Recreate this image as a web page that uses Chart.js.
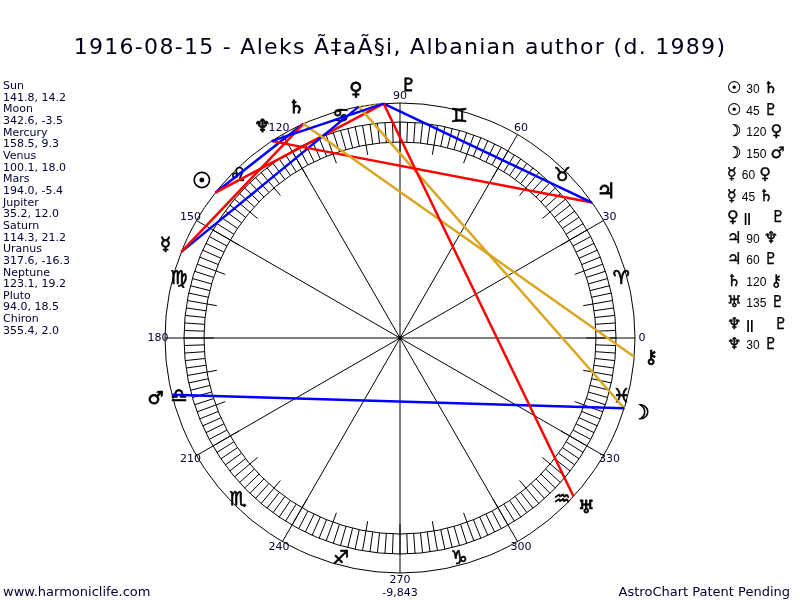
<!DOCTYPE html>
<html>
<head>
<meta charset="utf-8">
<title>Astro chart</title>
<script src="https://cdn.jsdelivr.net/npm/chart.js@4.4.1/dist/chart.umd.min.js"></script>
<style>
  body { margin: 0; background: #fff; }
  #wrap { position: relative; width: 800px; height: 600px; overflow: hidden;
          font-family: "DejaVu Sans", Verdana, sans-serif; color: #000033; }
  #wheel { position: absolute; left: 0; top: 0; }
  #title { position: absolute; left: 0; top: 34px; width: 800px; text-align: center;
           font-size: 22px; letter-spacing: 1.3px; line-height: 26px; white-space: nowrap; color: #00001a; }
  #positions { position: absolute; left: 3px; top: 80px; font-size: 11px; line-height: 11.65px; }
  #aspects { position: absolute; left: 727px; top: 78px; line-height: 19.5px; white-space: nowrap; color: #000; }
  #aspects .g { font-size: 16px; -webkit-text-stroke: 0.4px #000; }
  #aspects .n { font-family: "Liberation Sans", Arial, sans-serif; font-size: 12px; margin: 0 4px 0 5px; }
  #aspects .par { font-family: "Liberation Sans", Arial, sans-serif; font-weight: bold; font-size: 13px;
                  margin: 0 20px 0 5px; }
  .foot { position: absolute; top: 584px; font-size: 13px; line-height: 15px; white-space: nowrap; }
</style>
</head>
<body>
<div id="wrap">
  <canvas id="wheel" width="800" height="600"></canvas>
  <div id="title"></div>
  <div id="positions"></div>
  <div id="aspects"></div>
  <div class="foot" style="left:3px">www.harmoniclife.com</div>
  <div class="foot" style="right:10px">AstroChart Patent Pending</div>
</div>
<script>
// --- data ---
const chartTitle = '1916-08-15 - Aleks Ã‡aÃ§i, Albanian author (d. 1989)';
const planetNames  = ['Sun', 'Moon', 'Mercury', 'Venus', 'Mars', 'Jupiter', 'Saturn', 'Uranus', 'Neptune', 'Pluto', 'Chiron'];
const planetGlyphs = ['\u2609', '\u263D', '\u263F', '\u2640', '\u2642', '\u2643', '\u2644', '\u2645', '\u2646', '\u2647', '\u26B7'];
const longitudes   = [141.8, 342.6, 158.5, 100.1, 194.0, 35.2, 114.3, 317.6, 123.1, 94.0, 355.4];
const declinations = [14.2, -3.5, 9.3, 18.0, -5.4, 12.0, 21.2, -16.3, 19.2, 18.5, 2.0];

const aspectFrom  = ['Sun', 'Sun', 'Moon', 'Moon', 'Mercury', 'Mercury', 'Venus', 'Jupiter', 'Jupiter', 'Saturn', 'Uranus', 'Neptune', 'Neptune'];
const aspectKinds = ['30', '45', '120', '150', '60', '45', '||', '90', '60', '120', '135', '||', '30'];
const aspectTo    = ['Saturn', 'Pluto', 'Venus', 'Mars', 'Venus', 'Saturn', 'Pluto', 'Neptune', 'Pluto', 'Chiron', 'Pluto', 'Pluto', 'Pluto'];

const signGlyphs   = ['\u2648', '\u2649', '\u264A', '\u264B', '\u264C', '\u264D', '\u264E', '\u264F', '\u2650', '\u2651', '\u2652', '\u2653'];
const degreeLabels = ['0', '30', '60', '90', '120', '150', '180', '210', '240', '270', '300', '330'];
const bottomValue  = '-9,843';

// --- styles ---
const OUTER_R = 235, RING_OUT = 216, RING_IN = 196, INNER_TICK = 10;
const SIGN_R = 229, PLANET_R = 252, DEG_R = 242;
const TEXT_COL = '#000033';
const aspectColors = {
    '30': '#0000ff', '60': '#0000ff', '150': '#0000ff',
    '45': '#ff0000', '90': '#ff0000', '135': '#ff0000',
    '120': '#daa520', '||': '#daa520'
};
const glyphSize = { Sun: 22, Jupiter: 21, Moon: 20 };  // the bigger glyphs
const labelNudge = { Pluto: -6 };   // glyph pushed aside so it does not crowd Venus
const VS = '\uFE0E';                 // force text presentation of symbols

const rad = d => d * Math.PI / 180;
const onCircle = (r, deg) => ({ x: r * Math.cos(rad(deg)), y: r * Math.sin(rad(deg)) });
const glyphOf = name => planetGlyphs[planetNames.indexOf(name)];
const lonOf = name => longitudes[planetNames.indexOf(name)];

// === side texts ===
document.getElementById('title').textContent = chartTitle;

document.getElementById('positions').innerHTML = planetNames.map((n, i) =>
    '<div>' + n + '</div><div>' + longitudes[i].toFixed(1) + ', ' + declinations[i].toFixed(1) + '</div>'
).join('');

document.getElementById('aspects').innerHTML = aspectKinds.map((k, i) => {
    const mid = k === '||'
        ? '<span class="par">||</span>'
        : '<span class="n">' + k + '</span>';
    return '<div><span class="g">' + glyphOf(aspectFrom[i]) + VS + '</span>' + mid +
           '<span class="g">' + glyphOf(aspectTo[i]) + VS + '</span></div>';
}).join('');

// === aspect lines as datasets ===
const datasets = aspectKinds.map((k, i) => ({
    label: aspectFrom[i] + ' ' + k + ' ' + aspectTo[i],
    data: [onCircle(OUTER_R, lonOf(aspectFrom[i])), onCircle(OUTER_R, lonOf(aspectTo[i]))],
    showLine: true,
    borderColor: aspectColors[k],
    borderWidth: k === '||' ? 2 : 2.5,
    borderDash: k === '||' ? [2, 3] : [],
    pointRadius: 0,
    fill: false,
    order: -i
}));

// === the wheel itself ===
const wheelPlugin = {
    id: 'wheel',
    beforeDatasetsDraw(chart) {
        const { ctx, scales: { x, y } } = chart;
        const cx = x.getPixelForValue(0), cy = y.getPixelForValue(0);
        const k = x.getPixelForValue(1) - cx;
        const pt = (r, deg) => { const p = onCircle(r, deg); return [x.getPixelForValue(p.x), y.getPixelForValue(p.y)]; };
        const seg = (r1, r2, deg) => {
            const a = pt(r1, deg), b = pt(r2, deg);
            ctx.moveTo(a[0], a[1]); ctx.lineTo(b[0], b[1]);
        };

        ctx.save();
        ctx.strokeStyle = '#000';
        ctx.lineWidth = 1;

        [OUTER_R, RING_OUT, RING_IN].forEach(r => {
            ctx.beginPath();
            ctx.arc(cx, cy, r * k, 0, Math.PI * 2);
            ctx.stroke();
        });

        ctx.beginPath();
        for (let d = 0; d < 360; d += 2) seg(RING_IN, RING_OUT, d);
        for (let d = 0; d < 360; d += 10) seg(RING_IN - INNER_TICK, RING_IN, d);
        for (let d = 0; d < 360; d += 30) seg(0, OUTER_R, d);
        ctx.stroke();

        ctx.fillStyle = '#000';
        ctx.beginPath();
        ctx.arc(cx, cy, 2, 0, Math.PI * 2);
        ctx.fill();

        // signs
        ctx.font = '19px "DejaVu Sans"';
        ctx.textAlign = 'center';
        ctx.textBaseline = 'middle';
        ctx.lineWidth = 0.7;
        signGlyphs.forEach((g, i) => {
            const p = pt(SIGN_R, 15 + i * 30);
            ctx.fillText(g + VS, p[0], p[1]);
            ctx.strokeText(g + VS, p[0], p[1]);
        });

        // degree labels
        ctx.fillStyle = TEXT_COL;
        ctx.font = '11px "DejaVu Sans"';
        degreeLabels.forEach((t, i) => {
            const p = pt(DEG_R, i * 30);
            ctx.fillText(t, p[0], p[1]);
        });
        const b = pt(DEG_R, 270);
        ctx.fillText(bottomValue, b[0], b[1] + 13);
        ctx.restore();
    },
    afterDatasetsDraw(chart) {
        const { ctx, scales: { x, y } } = chart;
        ctx.save();
        ctx.fillStyle = '#000';
        ctx.strokeStyle = '#000';
        ctx.lineWidth = 0.8;
        ctx.textAlign = 'center';
        ctx.textBaseline = 'middle';
        planetNames.forEach((n, i) => {
            const p = onCircle(PLANET_R, longitudes[i] + (labelNudge[n] || 0));
            const px = x.getPixelForValue(p.x), py = y.getPixelForValue(p.y);
            ctx.font = (glyphSize[n] || 18) + 'px "DejaVu Sans"';
            ctx.fillText(planetGlyphs[i] + VS, px, py);
            ctx.strokeText(planetGlyphs[i] + VS, px, py);
        });
        ctx.restore();
    }
};

new Chart(document.getElementById('wheel'), {
    type: 'scatter',
    data: { datasets },
    options: {
        responsive: false,
        animation: false,
        layout: { padding: 0 },
        scales: {
            x: { type: 'linear', min: -400, max: 400, display: false },
            y: { type: 'linear', min: -262, max: 338, display: false }
        },
        plugins: {
            legend: { display: false },
            tooltip: { enabled: false }
        }
    },
    plugins: [wheelPlugin]
});
</script>
</body>
</html>
